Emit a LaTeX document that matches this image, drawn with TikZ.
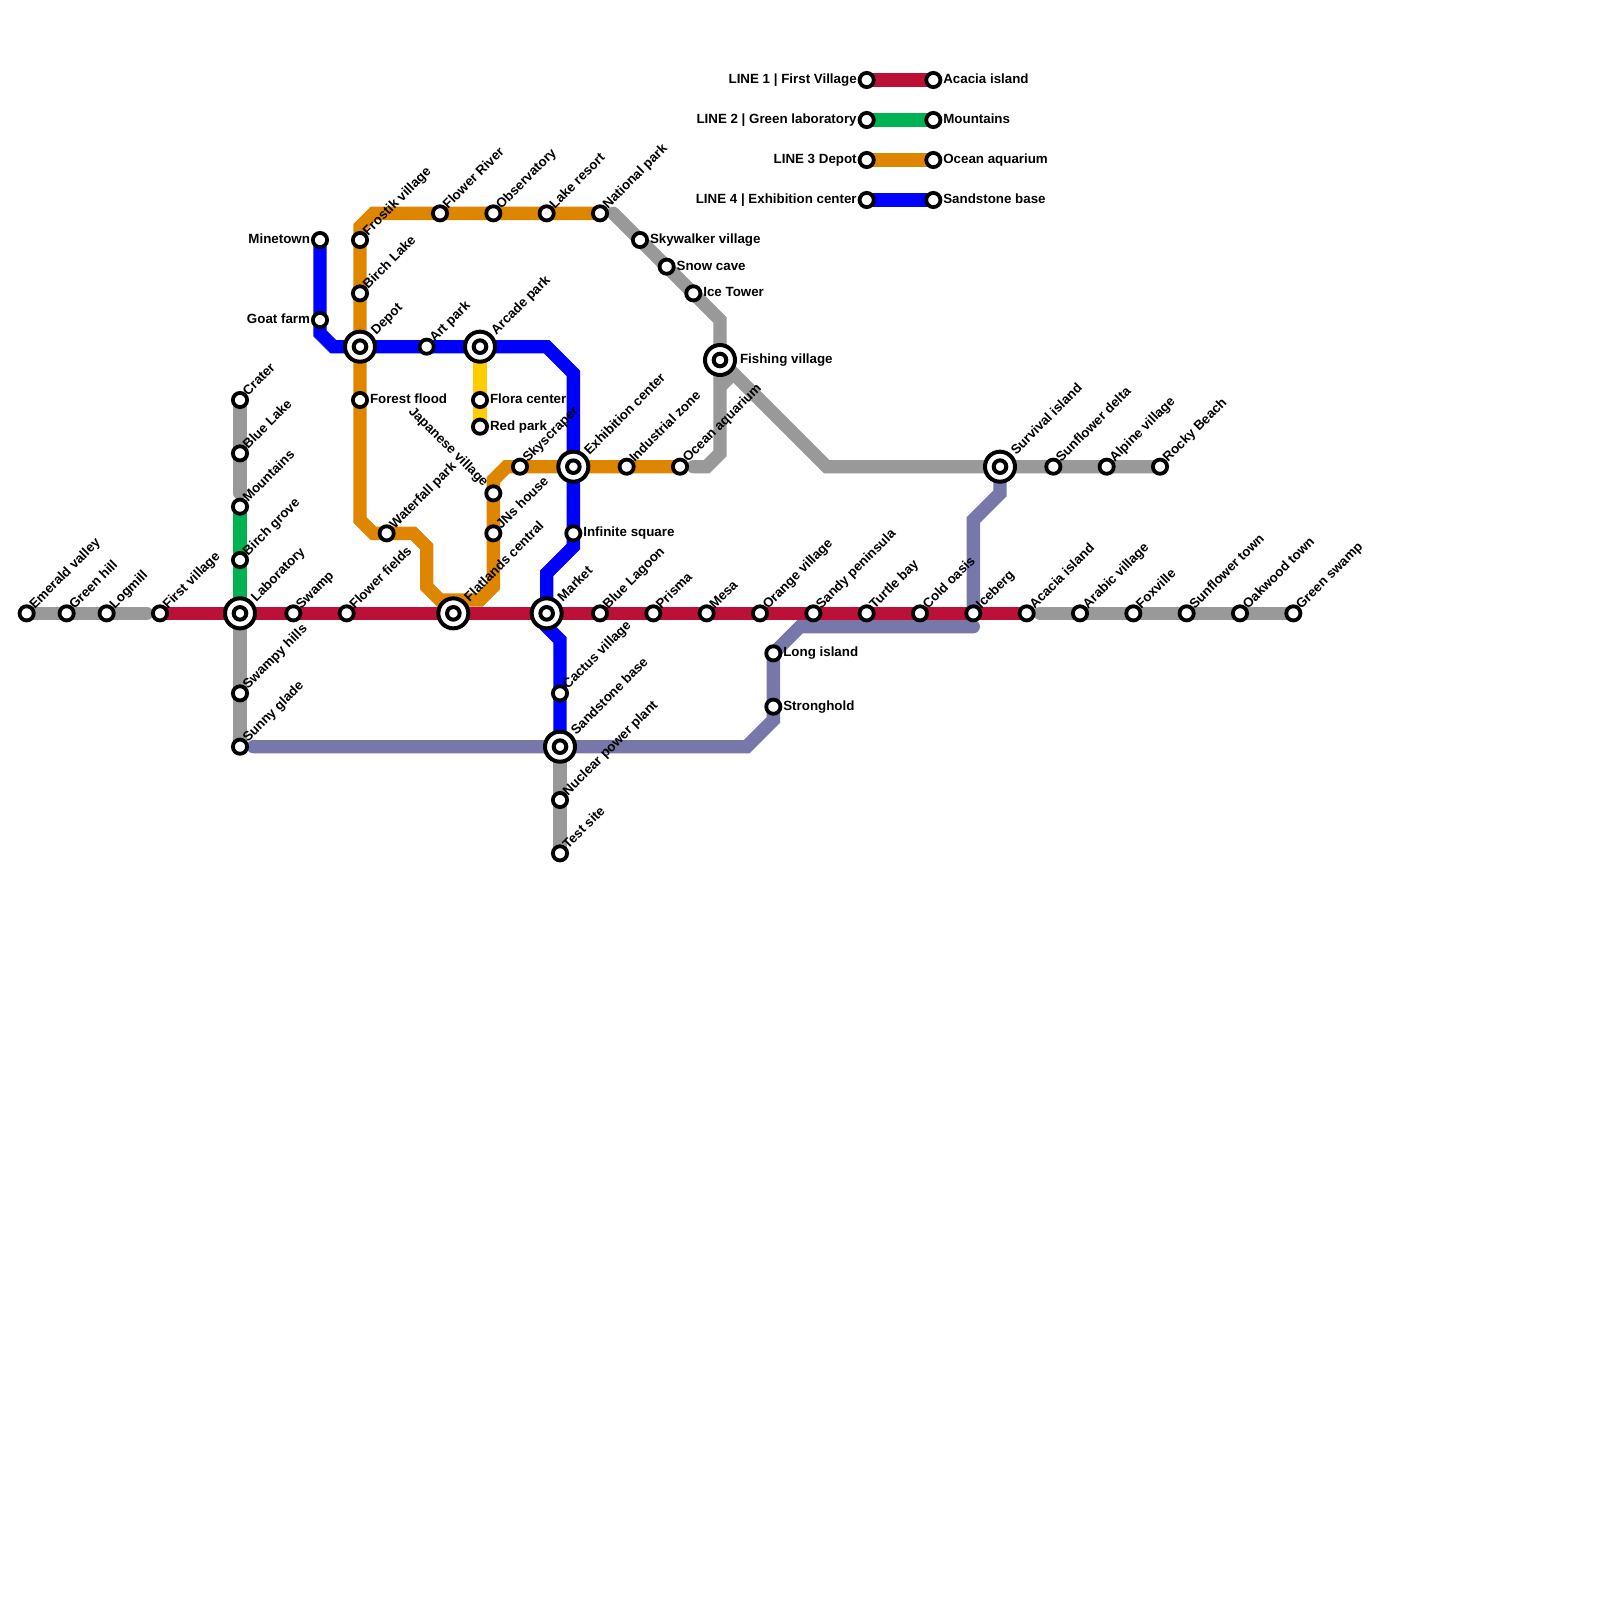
\documentclass[tikz,border=0pt]{standalone}
\usepackage{fontspec}
\setmainfont{Liberation Sans}
\pgfdeclarelayer{lines}
\pgfsetlayers{lines,main}
\definecolor{lred}{HTML}{BD1038}
\definecolor{lgreen}{HTML}{00B251}
\definecolor{lorange}{HTML}{DF8600}
\definecolor{lblue}{HTML}{0000FF}
\definecolor{lgrey}{HTML}{999999}
\definecolor{lpurple}{HTML}{7777AA}
\definecolor{lyellow}{HTML}{FFCC00}
\tikzset{
  stat/.style={circle,draw=black,fill=white,line width=1.9pt,inner sep=0pt,minimum size=7.1pt},
  bigstat/.style={circle,draw=black,fill=white,line width=2pt,inner sep=0pt,minimum size=15pt},
  hubstat/.style={circle,draw=black,fill=white,line width=2pt,inner sep=0pt,minimum size=6.3pt},
  lab/.style={inner sep=0pt,font=\fontsize{6.67}{8}\selectfont\bfseries,text=black},
  ne/.style={lab,xshift=3.9pt,yshift=1.8pt,rotate=45,anchor=base west},
  bne/.style={lab,xshift=8pt,yshift=5.5pt,rotate=45,anchor=base west},
  ee/.style={lab,xshift=4.8pt,yshift=-1.8pt,anchor=base west},
  bee/.style={lab,xshift=9.8pt,yshift=-1.8pt,anchor=base west},
  ww/.style={lab,xshift=-4.8pt,yshift=-1.8pt,anchor=base east},
  nw/.style={lab,xshift=-5pt,yshift=3pt,rotate=-45,anchor=base east},
  track/.style={line width=6.667pt,miter limit=10},
  rtrack/.style={track,line cap=round},
}
\newcommand{\stn}[5]{\node[stat] (#1) at (#2,#3) {}; \node[#4] (#1-l) at (#1) {#5};}
\newcommand{\hub}[5]{\node[bigstat] (#1) at (#2,#3) {}; \node[hubstat] (#1-i) at (#1) {}; \node[#4] (#1-l) at (#1) {#5};}
\begin{document}
\begin{tikzpicture}[x=6.6667pt,y=-6.6667pt]
\useasboundingbox (0,0) rectangle (120,120);
% bend points
\coordinate (b1) at (24,25); \coordinate (b2) at (25,26);
\coordinate (b3) at (41,26); \coordinate (b4) at (43,28);
\coordinate (b5) at (43,41); \coordinate (b6) at (41,43);
\coordinate (b7) at (41,47); \coordinate (b8) at (42,48);
\coordinate (o1) at (28,16); \coordinate (o2) at (27,17);
\coordinate (o3) at (27,39); \coordinate (o4) at (28,40);
\coordinate (o5) at (31,40); \coordinate (o6) at (32,41);
\coordinate (o7) at (32,44); \coordinate (o8) at (33,45);
\coordinate (o9) at (36,45); \coordinate (o10) at (37,44);
\coordinate (o11) at (37,36); \coordinate (o12) at (38,35);
\coordinate (g1) at (46,16); \coordinate (g2) at (54,24);
\coordinate (g3) at (52,35); \coordinate (g4) at (53,35);
\coordinate (g5) at (54,34); \coordinate (g6) at (54,29);
\coordinate (g7) at (55,28); \coordinate (g8) at (62,35);
\coordinate (g9) at (11,46); \coordinate (g10) at (18,37);
\coordinate (g11) at (78,46);
\coordinate (p1) at (19,56); \coordinate (p2) at (56,56);
\coordinate (p3) at (58,54); \coordinate (p4) at (60,47);
\coordinate (p5) at (73,47); \coordinate (p6) at (75,37);
\coordinate (p7) at (73,39); \coordinate (p8) at (73,45.4);
% line 1 row
\stn{emerald}{2}{46}{ne}{Emerald valley}
\stn{greenhill}{5}{46}{ne}{Green hill}
\stn{logmill}{8}{46}{ne}{Logmill}
\stn{first}{12}{46}{ne}{First village}
\hub{lab}{18}{46}{bne}{Laboratory}
\stn{swamp}{22}{46}{ne}{Swamp}
\stn{flowerf}{26}{46}{ne}{Flower fields}
\hub{flat}{34}{46}{bne}{Flatlands central}
\hub{market}{41}{46}{bne}{Market}
\stn{lagoon}{45}{46}{ne}{Blue Lagoon}
\stn{prisma}{49}{46}{ne}{Prisma}
\stn{mesa}{53}{46}{ne}{Mesa}
\stn{orangev}{57}{46}{ne}{Orange village}
\stn{sandy}{61}{46}{ne}{Sandy peninsula}
\stn{turtle}{65}{46}{ne}{Turtle bay}
\stn{cold}{69}{46}{ne}{Cold oasis}
\stn{iceberg}{73}{46}{ne}{Iceberg}
\stn{acacia}{77}{46}{ne}{Acacia island}
\stn{arabic}{81}{46}{ne}{Arabic village}
\stn{foxville}{85}{46}{ne}{Foxville}
\stn{sunftown}{89}{46}{ne}{Sunflower town}
\stn{oakwood}{93}{46}{ne}{Oakwood town}
\stn{greenswamp}{97}{46}{ne}{Green swamp}
% x=18 column
\stn{crater}{18}{30}{ne}{Crater}
\stn{bluelake}{18}{34}{ne}{Blue Lake}
\stn{mountains}{18}{38}{ne}{Mountains}
\stn{birch}{18}{42}{ne}{Birch grove}
\stn{swampy}{18}{52}{ne}{Swampy hills}
\stn{sunny}{18}{56}{ne}{Sunny glade}
% blue
\stn{minetown}{24}{18}{ww}{Minetown}
\stn{goat}{24}{24}{ww}{Goat farm}
\hub{depot}{27}{26}{bne}{Depot}
\stn{art}{32}{26}{ne}{Art park}
\hub{arcade}{36}{26}{bne}{Arcade park}
\hub{exhib}{43}{35}{bne}{Exhibition center}
\stn{infinite}{43}{40}{ee}{Infinite square}
\stn{cactus}{42}{52}{ne}{Cactus village}
\hub{sandstone}{42}{56}{bne}{Sandstone base}
\stn{nuclear}{42}{60}{ne}{Nuclear power plant}
\stn{test}{42}{64}{ne}{Test site}
% orange
\stn{frostik}{27}{18}{ne}{Frostik village}
\stn{flowerr}{33}{16}{ne}{Flower River}
\stn{observ}{37}{16}{ne}{Observatory}
\stn{lakeres}{41}{16}{ne}{Lake resort}
\stn{natpark}{45}{16}{ne}{National park}
\stn{birchl}{27}{22}{ne}{Birch Lake}
\stn{forest}{27}{30}{ee}{Forest flood}
\stn{waterfall}{29}{40}{ne}{Waterfall park}
\stn{japan}{37}{37}{nw}{Japanese village}
\stn{jns}{37}{40}{ne}{JNs house}
\stn{sky}{39}{35}{ne}{Skyscraper}
\stn{indus}{47}{35}{ne}{Industrial zone}
\stn{ocean}{51}{35}{ne}{Ocean aquarium}
% yellow
\stn{flora}{36}{30}{ee}{Flora center}
\stn{redpark}{36}{32}{ee}{Red park}
% grey NE
\stn{skywalker}{48}{18}{ee}{Skywalker village}
\stn{snow}{50}{20}{ee}{Snow cave}
\stn{ice}{52}{22}{ee}{Ice Tower}
\hub{fishing}{54}{27}{bee}{Fishing village}
\hub{survival}{75}{35}{bne}{Survival island}
\stn{sunfdelta}{79}{35}{ne}{Sunflower delta}
\stn{alpine}{83}{35}{ne}{Alpine village}
\stn{rocky}{87}{35}{ne}{Rocky Beach}
% purple
\stn{long}{58}{49}{ee}{Long island}
\stn{strong}{58}{53}{ee}{Stronghold}
% legend
\stn{la1}{65}{6}{ww}{LINE 1 | First Village}
\stn{lb1}{70}{6}{ee}{Acacia island}
\stn{la2}{65}{9}{ww}{LINE 2 | Green laboratory}
\stn{lb2}{70}{9}{ee}{Mountains}
\stn{la3}{65}{12}{ww}{LINE 3 Depot}
\stn{lb3}{70}{12}{ee}{Ocean aquarium}
\stn{la4}{65}{15}{ww}{LINE 4 | Exhibition center}
\stn{lb4}{70}{15}{ee}{Sandstone base}
\begin{pgfonlayer}{lines}
% grey
\draw[rtrack,lgrey] (emerald.center) -- (g9);
\draw[rtrack,lgrey] (crater.center) -- (g10);
\draw[track,lgrey] (lab.center) -- (sunny.center);
\draw[track,lgrey] (sandstone.center) -- (test.center);
\draw[rtrack,lgrey] (g11) -- (greenswamp.center);
\draw[rtrack,lgrey] (g1) -- (g2) -- (fishing.center);
\draw[rtrack,lgrey] (g3) -- (g4) -- (g5) -- (fishing.center);
\draw[track,lgrey] (g6) -- (g7);
\draw[track,lgrey] (fishing.center) -- (g8) -- (rocky.center);
% purple
\draw[rtrack,lpurple] (p1) -- (p2) -- (p3) -- (long.center) -- (p4) -- (p5);
\draw[rtrack,lpurple] (survival.center) -- (p6) -- (p7) -- (p8);
% yellow, green
\draw[track,lyellow] (arcade.center) -- (redpark.center);
\draw[track,lgreen] (mountains.center) -- (lab.center);
% orange
\draw[track,lorange] (natpark.center) -- (o1) -- (o2) -- (o3) -- (o4) -- (o5) -- (o6) -- (o7) -- (o8) -- (o9) -- (o10) -- (o11) -- (o12) -- (ocean.center);
% blue
\draw[track,lblue] (minetown.center) -- (b1) -- (b2) -- (b3) -- (b4) -- (b5) -- (b6) -- (b7) -- (b8) -- (sandstone.center);
% red
\draw[track,lred] (first.center) -- (acacia.center);
% legend
\draw[track,lred] (la1.center) -- (lb1.center);
\draw[track,lgreen] (la2.center) -- (lb2.center);
\draw[track,lorange] (la3.center) -- (lb3.center);
\draw[track,lblue] (la4.center) -- (lb4.center);
\end{pgfonlayer}
\end{tikzpicture}
\end{document}
